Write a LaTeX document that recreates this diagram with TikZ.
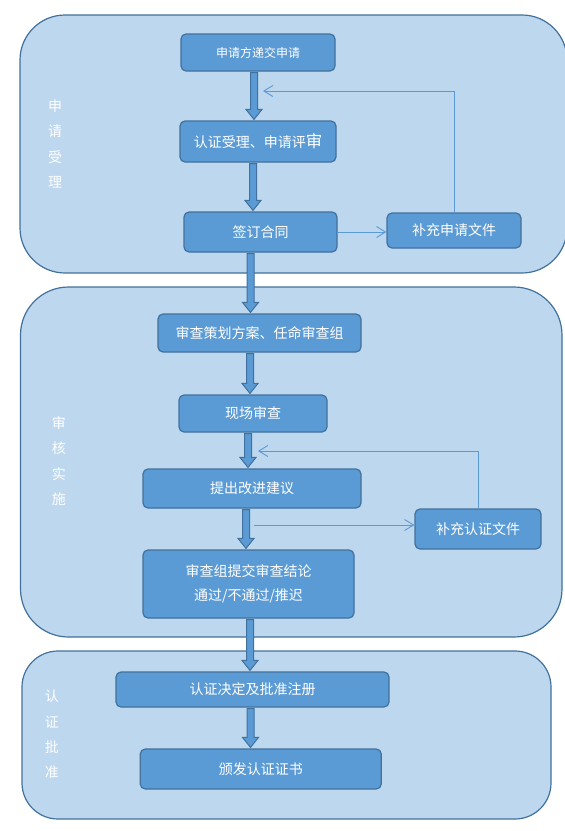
\documentclass[tikz,border=0pt]{standalone}
\usepackage{fontspec}
\newfontfamily\cjk{Noto Sans CJK SC}
\usetikzlibrary{arrows.meta,calc}
\definecolor{panelfill}{HTML}{BDD7EE}
\definecolor{panelline}{HTML}{41719C}
\definecolor{boxfill}{HTML}{5B9BD5}
\definecolor{fbcolor}{HTML}{5B9BD5}
\newcommand\fatarrow[3]{%
  \path[fatarr] let \p1=(#1.south), \p2=(#2.north) in
    (#3pt-3.5pt,\y1-1pt) -- (#3pt+3.5pt,\y1-1pt) -- (#3pt+3.5pt,\y2+11pt) --
    (#3pt+8pt,\y2+11pt) -- (#3pt,\y2+1pt) -- (#3pt-8pt,\y2+11pt) --
    (#3pt-3.5pt,\y2+11pt) -- cycle;}
\begin{document}
\begin{tikzpicture}[x=1pt,y=-1pt,
  panel/.style={draw=panelline, fill=panelfill, line width=1.2pt},
  stepbox/.style={draw=panelline, fill=boxfill, line width=1.2pt, rounded corners=5pt,
    text=white, font=\cjk\fontsize{14}{17}\selectfont, inner sep=0pt, align=center},
  fatarr/.style={draw=panelline, fill=boxfill, line width=1pt, line join=miter},
  fbline/.style={draw=fbcolor, line width=0.9pt, -{Straight Barb[length=9pt,width=11pt]}},
  sidelabel/.style={text=white, font=\cjk\fontsize{14}{25.3}\selectfont, align=center, inner sep=0pt}]
\useasboundingbox (0,0) rectangle (565,831);
\begin{scope}
\clip (0,0) rectangle (565,831);
\path[panel, rounded corners=45pt] (20,15) rectangle (567,273);
\path[panel, rounded corners=48pt] (20.5,287) rectangle (562,637);
\path[panel, rounded corners=36pt] (22,651) rectangle (551,819);
\end{scope}

\node[sidelabel] (l1) at (55,144) {申\\请\\受\\理};
\node[sidelabel] (l2) at (59,461) {审\\核\\实\\施};
\node[sidelabel] (l3) at (52,734.5) {认\\证\\批\\准};

\node[stepbox, minimum width=154pt, minimum height=37pt, font=\cjk\fontsize{12}{14}\selectfont] (b1) at (258,52.5) {申请方递交申请};
\node[stepbox, minimum width=156pt, minimum height=41pt] (b2) at (258,141.5) {认证受理、申请评{\fontsize{16.5}{17}\selectfont 审}};
\node[stepbox, minimum width=153pt, minimum height=40pt] (b3) at (260.5,232) {签订合同};
\node[stepbox, minimum width=134pt, minimum height=35pt] (b4) at (454,230.5) {补充申请文件};
\node[stepbox, minimum width=203pt, minimum height=38pt] (b5) at (259.5,333) {审查策划方案、任命审查组};
\node[stepbox, minimum width=148pt, minimum height=37pt] (b6) at (253,413.5) {现场审查};
\node[stepbox, minimum width=218pt, minimum height=39pt] (b7) at (252,488.5) {提出改进建议};
\node[stepbox, minimum width=126pt, minimum height=40pt] (b8) at (478,529) {补充认证文件};
\node[stepbox, minimum width=211pt, minimum height=68pt, font=\cjk\fontsize{14}{24.6}\selectfont] (b9) at (248.5,584) {审查组提交审查结论\\通过/不通过/推迟};
\node[stepbox, minimum width=273pt, minimum height=35pt] (b10) at (252.5,689.5) {认证决定及批准注册};
\node[stepbox, minimum width=241pt, minimum height=40pt] (b11) at (260.75,769) {颁发认证证书};

\fatarrow{b1}{b2}{254}
\fatarrow{b2}{b3}{253}
\fatarrow{b3}{b5}{250.5}
\fatarrow{b5}{b6}{250}
\fatarrow{b6}{b7}{248}
\fatarrow{b7}{b9}{246}
\fatarrow{b9}{b10}{250}
\fatarrow{b10}{b11}{250.5}

\coordinate (fb1) at (263,91);
\coordinate (fb2) at (258,451);
\coordinate (fs2) at (254,525);
\draw[fbline] (b4.north) |- (fb1);
\draw[fbline] (b8.north) |- (fb2);
\draw[fbline] (b3.east) -- (b3.east -| b4.west);
\draw[fbline] (fs2) -- (fs2 -| b8.west);
\end{tikzpicture}
\end{document}
